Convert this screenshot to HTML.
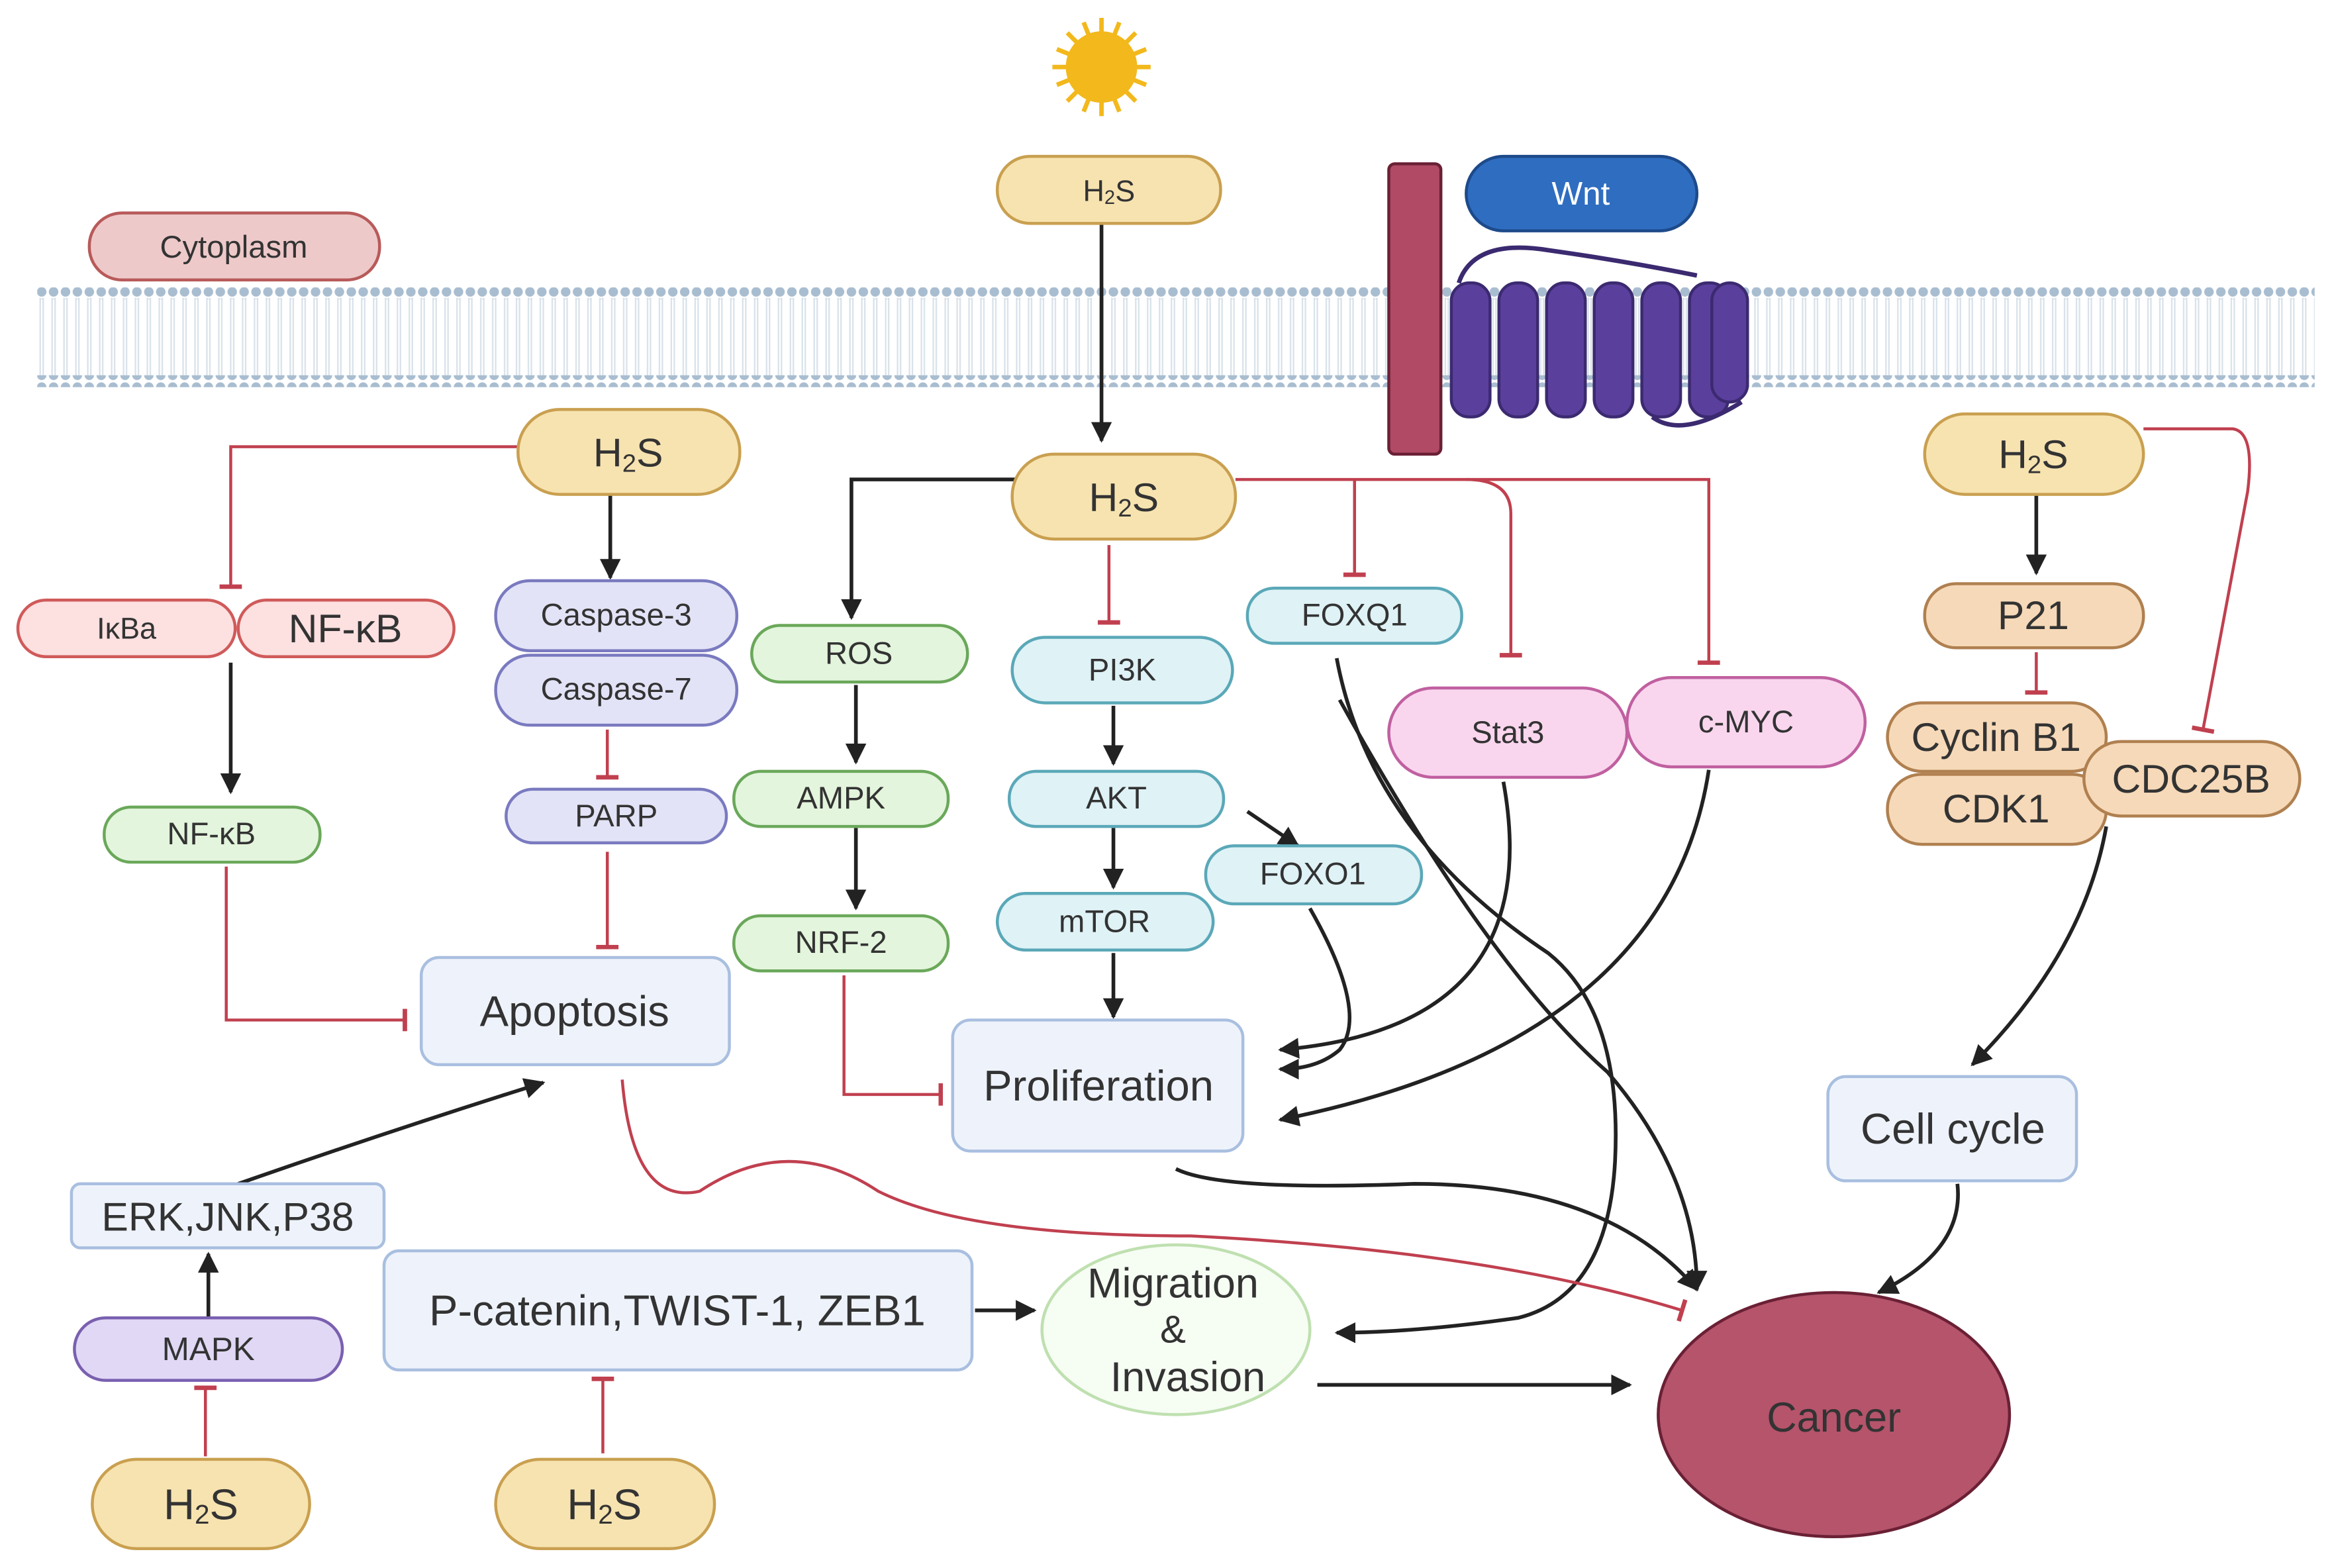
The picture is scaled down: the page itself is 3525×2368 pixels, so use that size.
<!DOCTYPE html>
<html><head><meta charset="utf-8">
<style>
html,body{margin:0;padding:0;background:#fff;}
svg{display:block;}
text{font-family:"Liberation Sans",sans-serif;fill:#333;text-anchor:middle;dominant-baseline:central;}
</style></head>
<body>
<svg width="3525" height="2368" viewBox="0 0 1568 1053" preserveAspectRatio="none" xmlns="http://www.w3.org/2000/svg">
<defs>
<marker id="ar" viewBox="0 0 10 10" refX="9" refY="5" markerWidth="14" markerHeight="14" markerUnits="userSpaceOnUse" orient="auto"><path d="M0,0 L10,5 L0,10 z" fill="#222"/></marker>
<marker id="tee" viewBox="0 0 4 20" refX="2" refY="10" markerWidth="3" markerHeight="18" markerUnits="userSpaceOnUse" orient="auto"><rect x="0" y="0" width="4" height="20" fill="#c0404f"/></marker>
<pattern id="dots" width="8" height="8" patternUnits="userSpaceOnUse"><circle cx="4" cy="4" r="3.2" fill="#a9bdd0"/></pattern>
<pattern id="tails" width="8" height="40" patternUnits="userSpaceOnUse"><line x1="3" y1="0" x2="3" y2="40" stroke="#d8e2ea" stroke-width="1"/><line x1="5" y1="0" x2="5" y2="40" stroke="#d8e2ea" stroke-width="1"/></pattern>
</defs>
<rect width="1568" height="1053" fill="#fff"/>
<!-- membrane -->
<rect x="25" y="200" width="1530" height="54" fill="url(#tails)"/>
<rect x="25" y="193" width="1530" height="8" fill="url(#dots)"/>
<rect x="25" y="252" width="1530" height="8" fill="url(#dots)"/>
<!-- sun -->
<g transform="translate(740,45)">
<circle r="24" fill="#f2b81c"/>
<g stroke="#f2b81c" stroke-width="3">
<line x1="0" y1="-33" x2="0" y2="33"/><line x1="-33" y1="0" x2="33" y2="0"/>
<line x1="-23" y1="-23" x2="23" y2="23"/><line x1="-23" y1="23" x2="23" y2="-23"/>
<line x1="-12" y1="-30" x2="12" y2="30"/><line x1="12" y1="-30" x2="-12" y2="30"/>
<line x1="-30" y1="-12" x2="30" y2="12"/><line x1="-30" y1="12" x2="30" y2="-12"/>
</g></g>
<!-- receptor -->
<g fill="#5b3f9c" stroke="#3b2a70" stroke-width="2">
<rect x="975" y="190" width="26" height="90" rx="12"/>
<rect x="1007" y="190" width="26" height="90" rx="12"/>
<rect x="1039" y="190" width="26" height="90" rx="12"/>
<rect x="1071" y="190" width="26" height="90" rx="12"/>
<rect x="1103" y="190" width="26" height="90" rx="12"/>
<rect x="1135" y="190" width="26" height="90" rx="12"/>
<rect x="1150" y="190" width="24" height="80" rx="12"/>
</g>
<path d="M980,190 Q990,160 1040,168 Q1090,175 1140,185" fill="none" stroke="#3b2a70" stroke-width="3"/>
<path d="M1110,280 Q1130,295 1170,270" fill="none" stroke="#3b2a70" stroke-width="3"/>
<rect x="933" y="110" width="35" height="195" rx="4" fill="#b04a65" stroke="#6a2035" stroke-width="2"/>
<rect x="985" y="105" width="155" height="50" rx="25" fill="#2f6dc0" stroke="#1d4a8a" stroke-width="2"/>
<text x="1062" y="130" font-size="22" style="fill:#fff">Wnt</text>
<rect x="60" y="143" width="195" height="45" rx="22" fill="#eec9c9" stroke="#b85a5a" stroke-width="2"/>
<text x="157" y="166" font-size="21">Cytoplasm</text>

<!-- connectors black -->
<g fill="none" stroke="#222" stroke-width="2.5" marker-end="url(#ar)">
<line x1="740" y1="150" x2="740" y2="296"/>
<line x1="410" y1="332" x2="410" y2="388"/>
<line x1="155" y1="445" x2="155" y2="532"/>
<path d="M682,322 L572,322 L572,415"/>
<line x1="575" y1="460" x2="575" y2="512"/>
<line x1="575" y1="556" x2="575" y2="610"/>
<line x1="748" y1="474" x2="748" y2="513"/>
<line x1="748" y1="556" x2="748" y2="596"/>
<line x1="838" y1="545" x2="872" y2="568"/>
<line x1="748" y1="640" x2="748" y2="683"/>
<path d="M880,610 Q920,680 900,705 Q885,718 860,718"/>
<path d="M1010,525 Q1040,690 860,705"/>
<path d="M1148,517 Q1120,700 860,752"/>
<path d="M898,442 Q920,560 1040,640 Q1090,680 1085,780 Q1080,870 1020,885 Q950,895 898,895"/>
<path d="M900,470 Q1000,650 1080,720 Q1140,790 1140,866"/>
<line x1="1368" y1="332" x2="1368" y2="385"/>
<path d="M1415,555 Q1400,640 1325,715"/>
<path d="M1315,795 Q1320,840 1262,868"/>
<path d="M790,785 Q820,800 950,795 Q1080,795 1140,866"/>
<line x1="885" y1="930" x2="1095" y2="930"/>
<line x1="655" y1="880" x2="695" y2="880"/>
<path d="M160,795 Q260,760 365,727"/>
<line x1="140" y1="885" x2="140" y2="842"/>
</g>
<!-- connectors red -->
<g fill="none" stroke="#c0404f" stroke-width="2" marker-end="url(#tee)">
<path d="M348,300 L155,300 L155,394"/>
<path d="M152,582 L152,685 L272,685"/>
<line x1="408" y1="490" x2="408" y2="522"/>
<line x1="408" y1="572" x2="408" y2="636"/>
<line x1="745" y1="366" x2="745" y2="418"/>
<path d="M830,322 L1148,322 L1148,445"/>
<path d="M910,322 L910,386"/>
<path d="M985,322 Q1015,322 1015,345 L1015,440"/>
<path d="M567,655 L567,735 L632,735"/>
<line x1="1368" y1="438" x2="1368" y2="465"/>
<path d="M1440,288 L1500,288 Q1515,290 1510,330 L1480,490"/>
<path d="M418,725 Q425,810 470,800 Q530,760 590,800 Q650,830 800,830 Q1000,840 1130,880"/>
<line x1="138" y1="978" x2="138" y2="932"/>
<line x1="405" y1="976" x2="405" y2="926"/>
</g>

<!-- nodes -->
<g stroke-width="2">
<g fill="#f7e3b0" stroke="#c9a050">
<rect x="670" y="105" width="150" height="45" rx="22"/>
<rect x="680" y="305" width="150" height="57" rx="28"/>
<rect x="348" y="275" width="149" height="57" rx="28"/>
<rect x="1293" y="278" width="147" height="54" rx="27"/>
<rect x="62" y="980" width="146" height="60" rx="30"/>
<rect x="333" y="980" width="147" height="60" rx="30"/>
</g>
<g fill="#fde0e0" stroke="#d05a5a">
<rect x="12" y="403" width="146" height="38" rx="19"/>
<rect x="160" y="403" width="145" height="38" rx="19"/>
</g>
<g fill="#e3f5dc" stroke="#6aa85a">
<rect x="70" y="542" width="145" height="37" rx="18"/>
<rect x="505" y="420" width="145" height="38" rx="19"/>
<rect x="493" y="518" width="144" height="37" rx="18"/>
<rect x="493" y="615" width="144" height="37" rx="18"/>
</g>
<g fill="#e3e3f7" stroke="#7a7ac0">
<rect x="333" y="390" width="162" height="47" rx="23"/>
<rect x="333" y="440" width="162" height="47" rx="23"/>
<rect x="340" y="530" width="148" height="36" rx="18"/>
</g>
<g fill="#dff2f6" stroke="#5aa8b8">
<rect x="680" y="428" width="148" height="44" rx="22"/>
<rect x="678" y="518" width="144" height="37" rx="18"/>
<rect x="670" y="600" width="145" height="38" rx="19"/>
<rect x="810" y="568" width="145" height="39" rx="19"/>
<rect x="838" y="395" width="144" height="37" rx="18"/>
</g>
<g fill="#f9d6ee" stroke="#c060a0">
<rect x="933" y="462" width="160" height="60" rx="30"/>
<rect x="1093" y="455" width="160" height="60" rx="30"/>
</g>
<g fill="#f6d9b8" stroke="#b08050">
<rect x="1293" y="392" width="147" height="43" rx="21"/>
<rect x="1268" y="472" width="147" height="46" rx="23"/>
<rect x="1268" y="520" width="147" height="47" rx="23"/>
<rect x="1400" y="498" width="145" height="50" rx="25"/>
</g>
<g fill="#eef3fb" stroke="#a9bfe0">
<rect x="283" y="643" width="207" height="72" rx="12"/>
<rect x="640" y="685" width="195" height="88" rx="12"/>
<rect x="1228" y="723" width="167" height="70" rx="12"/>
<rect x="48" y="795" width="210" height="43" rx="6"/>
<rect x="258" y="840" width="395" height="80" rx="10"/>
</g>
<rect x="50" y="885" width="180" height="42" rx="21" fill="#e0d8f5" stroke="#7a60b0"/>
<ellipse cx="790" cy="893" rx="90" ry="57" fill="#f6fdf3" stroke="#bfe0b0"/>
<ellipse cx="1232" cy="950" rx="118" ry="82" fill="#b5546b" stroke="#6a2035"/>
</g>

<!-- labels -->
<text x="745" y="128" font-size="20">H<tspan font-size="13" dy="5">2</tspan><tspan dy="-5">S</tspan></text>
<text x="755" y="334" font-size="27">H<tspan font-size="17" dy="7">2</tspan><tspan dy="-7">S</tspan></text>
<text x="422" y="304" font-size="27">H<tspan font-size="17" dy="7">2</tspan><tspan dy="-7">S</tspan></text>
<text x="1366" y="305" font-size="27">H<tspan font-size="17" dy="7">2</tspan><tspan dy="-7">S</tspan></text>
<text x="135" y="1010" font-size="29">H<tspan font-size="18" dy="7">2</tspan><tspan dy="-7">S</tspan></text>
<text x="406" y="1010" font-size="29">H<tspan font-size="18" dy="7">2</tspan><tspan dy="-7">S</tspan></text>
<text x="85" y="422" font-size="20">IκBa</text>
<text x="232" y="422" font-size="27">NF-κB</text>
<text x="142" y="560" font-size="21">NF-κB</text>
<text x="414" y="413" font-size="21">Caspase-3</text>
<text x="414" y="463" font-size="21">Caspase-7</text>
<text x="414" y="548" font-size="21">PARP</text>
<text x="577" y="439" font-size="21">ROS</text>
<text x="565" y="536" font-size="21">AMPK</text>
<text x="565" y="633" font-size="21">NRF-2</text>
<text x="754" y="450" font-size="21">PI3K</text>
<text x="750" y="536" font-size="21">AKT</text>
<text x="742" y="619" font-size="21">mTOR</text>
<text x="882" y="587" font-size="21">FOXO1</text>
<text x="910" y="413" font-size="21">FOXQ1</text>
<text x="1013" y="492" font-size="21">Stat3</text>
<text x="1173" y="485" font-size="21">c-MYC</text>
<text x="1366" y="413" font-size="27">P21</text>
<text x="1341" y="495" font-size="27">Cyclin B1</text>
<text x="1341" y="543" font-size="27">CDK1</text>
<text x="1472" y="523" font-size="27">CDC25B</text>
<text x="386" y="679" font-size="29">Apoptosis</text>
<text x="738" y="729" font-size="29">Proliferation</text>
<text x="1312" y="758" font-size="29">Cell cycle</text>
<text x="153" y="817" font-size="27">ERK,JNK,P38</text>
<text x="140" y="906" font-size="22">MAPK</text>
<text x="455" y="880" font-size="29">P-catenin,TWIST-1, ZEB1</text>
<text x="788" y="862" font-size="28">Migration</text>
<text x="788" y="893" font-size="26">&amp;</text>
<text x="798" y="925" font-size="28">Invasion</text>
<text x="1232" y="952" font-size="28">Cancer</text>
</svg>
</body></html>
